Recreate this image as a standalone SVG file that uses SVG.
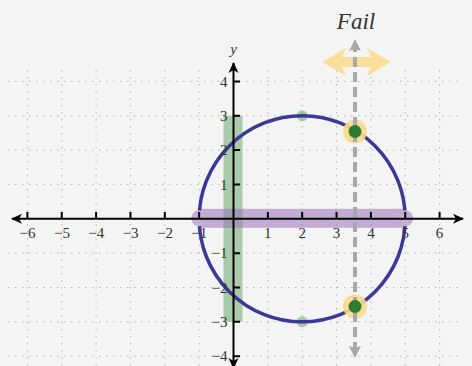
<svg xmlns="http://www.w3.org/2000/svg" width="472" height="366" viewBox="0 0 472 366">
<defs>
<style>
.grid{stroke:#b4b4b4;stroke-width:1;stroke-dasharray:1.5 5.5;fill:none}
.axis{stroke:#000;stroke-width:2;fill:none}
.tick{stroke:#000;stroke-width:2}
.lbl{font-family:"Liberation Serif","Times New Roman",serif;font-size:15px;fill:#333}
.xl{text-anchor:middle}
.yl{text-anchor:end}
</style>
<marker id="ah" viewBox="0 0 12 12" refX="10" refY="6" markerWidth="12" markerHeight="12" markerUnits="userSpaceOnUse" orient="auto">
<path d="M0,1 L11,6 L0,11 L3,6 Z" fill="#000"/>
</marker>
<marker id="gh" viewBox="0 0 14 14" refX="6" refY="7" markerWidth="14" markerHeight="14" markerUnits="userSpaceOnUse" orient="auto-start-reverse">
<path d="M0,1 L12,7 L0,13 L2,7 Z" fill="#a8a8a8"/>
</marker>
</defs>
<rect width="472" height="366" fill="#f4f4f4"/>
<g id="grid" class="grid">
<path d="M27.4,70V366M61.75,70V366M96.1,70V366M130.45,70V366M164.8,70V366M199.15,70V366M267.85,70V366M302.2,70V366M336.55,70V366M370.9,70V366M405.25,70V366M439.6,70V366"/>
<path d="M8,81.4H458M8,115.75H458M8,150.1H458M8,184.45H458M8,253.15H458M8,287.5H458M8,321.85H458M8,356.2H458"/>
</g>
<g id="bands">
<rect x="223.5" y="115.75" width="19" height="206.1" fill="#4f9a4f" fill-opacity="0.45"/>
<rect x="199.15" y="208.8" width="206.1" height="19" fill="#9b6fb8" fill-opacity="0.55"/>
</g>
<g id="vertex-dots">
<circle cx="302.2" cy="115.75" r="5.5" fill="#4f9a4f" fill-opacity="0.45"/>
<circle cx="302.2" cy="321.85" r="5.5" fill="#4f9a4f" fill-opacity="0.45"/>
</g>
<g id="circle">
<circle cx="302.2" cy="218.8" r="103.05" fill="none" stroke="#3b3898" stroke-width="3.5"/>
</g>
<g id="band-ends">
<circle cx="199.15" cy="218.3" r="8" fill="#c6acd8"/>
<circle cx="405.25" cy="218.3" r="8" fill="#c6acd8"/>
</g>
<g id="axes">
<line class="axis" x1="233.5" y1="218.8" x2="12" y2="218.8" marker-end="url(#ah)"/>
<line class="axis" x1="233.5" y1="218.8" x2="463" y2="218.8" marker-end="url(#ah)"/>
<line class="axis" x1="233.5" y1="218.8" x2="233.5" y2="63" marker-end="url(#ah)"/>
<line class="axis" x1="233.5" y1="218.8" x2="233.5" y2="368" marker-end="url(#ah)"/>
<path class="tick" d="M27.4,212V219M61.75,212V219M96.1,212V219M130.45,212V219M164.8,212V219M199.15,212V219M267.85,212V219M302.2,212V219M336.55,212V219M370.9,212V219M405.25,212V219M439.6,212V219"/>
<path class="tick" d="M233,81.4H240M233,115.75H240M233,150.1H240M233,184.45H240M233,253.15H240M233,287.5H240M233,321.85H240M233,356.2H240"/>
<g class="lbl xl">
<text x="27.6" y="237.5">−6</text><text x="61.95" y="237.5">−5</text><text x="96.3" y="237.5">−4</text><text x="130.65" y="237.5">−3</text><text x="165" y="237.5">−2</text><text x="199.35" y="237.5">−1</text>
<text x="267.85" y="237.5">1</text><text x="302.2" y="237.5">2</text><text x="336.55" y="237.5">3</text><text x="370.9" y="237.5">4</text><text x="405.25" y="237.5">5</text><text x="439.6" y="237.5">6</text>
</g>
<g class="lbl yl">
<text x="227.5" y="86.5">4</text><text x="227.5" y="120.8">3</text><text x="227.5" y="155.1">2</text><text x="227.5" y="189.5">1</text>
<text x="227.5" y="258.2">−1</text><text x="227.5" y="292.5">−2</text><text x="227.5" y="326.9">−3</text><text x="227.5" y="361.2">−4</text>
</g>
<text x="233.5" y="54" class="lbl" style="font-style:italic" text-anchor="middle">y</text>
</g>
<g id="halos">
<circle cx="355" cy="131.5" r="12" fill="#fbd98a" fill-opacity="0.9"/>
<circle cx="355" cy="306.5" r="12" fill="#fbd98a" fill-opacity="0.9"/>
</g>
<g id="fail-arrow">
<path d="M322,62 L346,48 L342,57 L371,57 L367,48 L391,62 L367,76 L371,67 L342,67 L346,76 Z" fill="#f9de9a"/>
</g>
<g id="connectors">
<line x1="355" y1="352" x2="355" y2="45" stroke="#a8a8a8" stroke-width="4" stroke-dasharray="10 5" marker-start="url(#gh)" marker-end="url(#gh)"/>
</g>
<g id="intersections">
<circle cx="355" cy="131.5" r="6.5" fill="#2a7d2e"/>
<circle cx="355" cy="306.5" r="6.5" fill="#2a7d2e"/>
</g>
<text id="fail" x="356" y="29" font-family="Liberation Serif, Times New Roman, serif" font-style="italic" font-size="23" fill="#333" text-anchor="middle">Fail</text>
</svg>
